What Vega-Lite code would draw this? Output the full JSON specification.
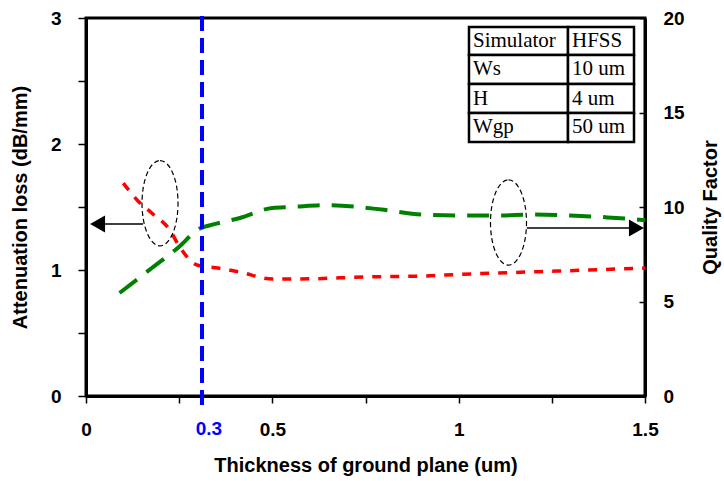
{
  "$schema": "https://vega.github.io/schema/vega-lite/v6.json",
  "width": 559,
  "height": 378,
  "autosize": {"type": "none"},
  "padding": {"left": 86, "top": 18, "right": 79, "bottom": 85},
  "background": "white",
  "config": {
    "view": {"stroke": "black", "strokeWidth": 3},
    "font": "Liberation Sans",
    "axis": {
      "domainColor": "black", "domainWidth": 3,
      "tickColor": "black", "tickWidth": 1.5,
      "labelColor": "black", "titleColor": "black",
      "labelFont": "Liberation Sans", "labelFontWeight": "bold", "labelFontSize": 19,
      "titleFont": "Liberation Sans", "titleFontWeight": "bold", "titleFontSize": 20,
      "grid": false, "labelOverlap": false, "labelFlush": false
    }
  },
  "datasets": {
    "loss": [
      {"x": 0.1, "y": 1.69}, {"x": 0.137, "y": 1.556}, {"x": 0.177, "y": 1.45},
      {"x": 0.225, "y": 1.317}, {"x": 0.252, "y": 1.18}, {"x": 0.298, "y": 1.04},
      {"x": 0.354, "y": 1.016}, {"x": 0.413, "y": 0.984}, {"x": 0.5, "y": 0.928},
      {"x": 0.6, "y": 0.93}, {"x": 0.75, "y": 0.945}, {"x": 0.9, "y": 0.952},
      {"x": 1.0, "y": 0.965}, {"x": 1.25, "y": 0.99}, {"x": 1.5, "y": 1.015}
    ],
    "quality": [
      {"x": 0.09, "q": 5.45}, {"x": 0.17, "q": 6.67}, {"x": 0.25, "q": 7.9},
      {"x": 0.3, "q": 8.8}, {"x": 0.35, "q": 9.12}, {"x": 0.413, "q": 9.42},
      {"x": 0.5, "q": 9.95}, {"x": 0.55, "q": 10.0}, {"x": 0.65, "q": 10.1},
      {"x": 0.8, "q": 9.85}, {"x": 0.9, "q": 9.6}, {"x": 1.0, "q": 9.55},
      {"x": 1.1, "q": 9.55}, {"x": 1.2, "q": 9.6}, {"x": 1.3, "q": 9.55},
      {"x": 1.4, "q": 9.45}, {"x": 1.5, "q": 9.3}
    ],
    "marker": [{"x": 0.3113, "y1": -0.0714, "y2": 3.056}],
    "label03": [{"x": 0.33, "y": -0.262, "text": "0.3"}],
    "tablecells": [
      {"x1": 1.0277, "x2": 1.2934, "y1": 2.9286, "y2": 2.7063},
      {"x1": 1.2934, "x2": 1.4705, "y1": 2.9286, "y2": 2.7063},
      {"x1": 1.0277, "x2": 1.2934, "y1": 2.7063, "y2": 2.4762},
      {"x1": 1.2934, "x2": 1.4705, "y1": 2.7063, "y2": 2.4762},
      {"x1": 1.0277, "x2": 1.2934, "y1": 2.4762, "y2": 2.2460},
      {"x1": 1.2934, "x2": 1.4705, "y1": 2.4762, "y2": 2.2460},
      {"x1": 1.0277, "x2": 1.2934, "y1": 2.2460, "y2": 2.0159},
      {"x1": 1.2934, "x2": 1.4705, "y1": 2.2460, "y2": 2.0159}
    ],
    "tabletext": [
      {"x": 1.0385, "y": 2.8175, "text": "Simulator"},
      {"x": 1.3041, "y": 2.8175, "text": "HFSS"},
      {"x": 1.0385, "y": 2.5913, "text": "Ws"},
      {"x": 1.3041, "y": 2.5913, "text": "10 um"},
      {"x": 1.0385, "y": 2.3611, "text": "H"},
      {"x": 1.3041, "y": 2.3611, "text": "4 um"},
      {"x": 1.0385, "y": 2.1310, "text": "Wgp"},
      {"x": 1.3041, "y": 2.1310, "text": "50 um"}
    ],
    "ellipses": [
      {"x": 0.1986, "y": 1.530},
      {"x": 1.1337, "y": 1.377}
    ],
    "arrowlines": [
      {"x1": 0.153, "x2": 0.045, "y": 1.365},
      {"x1": 1.183, "x2": 1.46, "y": 1.333}
    ],
    "arrowheads": [
      {"x": 0.031, "y": 1.365, "dir": "left"},
      {"x": 1.477, "y": 1.333, "dir": "right"}
    ]
  },
  "layer": [
    {
      "data": {"name": "quality"},
      "mark": {"type": "line", "color": "#008000", "strokeWidth": 4, "strokeDash": [22, 12], "interpolate": "monotone"},
      "encoding": {
        "x": {"field": "x", "type": "quantitative", "scale": {"domain": [0, 1.5], "nice": false}},
        "y": {
          "field": "q", "type": "quantitative",
          "scale": {"domain": [0, 20], "nice": false},
          "axis": {
            "orient": "right", "title": "Quality Factor", "values": [0, 5, 10, 15, 20],
            "tickSize": -6, "labelPadding": 24, "titleAngle": 270, "titleBaseline": "top", "titlePadding": 16
          }
        }
      }
    },
    {
      "layer": [
        {
          "data": {"name": "loss"},
          "mark": {"type": "line", "color": "#FF0000", "strokeWidth": 3.5, "strokeDash": [9, 9], "interpolate": "monotone"},
          "encoding": {
            "x": {
              "field": "x", "type": "quantitative",
              "scale": {"domain": [0, 1.5], "nice": false},
              "axis": {
                "title": "Thickness of ground plane (um)",
                "values": [0, 0.25, 0.5, 0.75, 1, 1.25, 1.5],
                "format": "~g",
                "labelExpr": "(datum.value == 0.25 || datum.value == 0.75 || datum.value == 1.25) ? '' : datum.label",
                "tickSize": 7, "labelPadding": 17, "titlePadding": 16
              }
            },
            "y": {
              "field": "y", "type": "quantitative",
              "scale": {"domain": [0, 3], "nice": false},
              "axis": {
                "title": "Attenuation loss (dB/mm)",
                "values": [0, 0.5, 1, 1.5, 2, 2.5, 3],
                "format": "~g",
                "labelExpr": "(datum.value == 0.5 || datum.value == 1.5 || datum.value == 2.5) ? '' : datum.label",
                "tickSize": 8, "labelPadding": 17, "titlePadding": 20
              }
            }
          }
        },
        {
          "data": {"name": "marker"},
          "mark": {"type": "rule", "color": "#0000FF", "strokeWidth": 4, "strokeDash": [15, 7], "clip": false},
          "encoding": {
            "x": {"field": "x", "type": "quantitative"},
            "y": {"field": "y1", "type": "quantitative"},
            "y2": {"field": "y2"}
          }
        },
        {
          "data": {"name": "label03"},
          "mark": {"type": "text", "color": "#0000FF", "font": "Liberation Sans", "fontWeight": "bold", "fontSize": 19, "align": "center", "baseline": "middle", "clip": false},
          "encoding": {
            "x": {"field": "x", "type": "quantitative"},
            "y": {"field": "y", "type": "quantitative"},
            "text": {"field": "text"}
          }
        },
        {
          "data": {"name": "tablecells"},
          "mark": {"type": "rect", "fill": "white", "stroke": "black", "strokeWidth": 2.5},
          "encoding": {
            "x": {"field": "x1", "type": "quantitative"},
            "x2": {"field": "x2"},
            "y": {"field": "y1", "type": "quantitative"},
            "y2": {"field": "y2"}
          }
        },
        {
          "data": {"name": "tabletext"},
          "mark": {"type": "text", "color": "black", "font": "Liberation Serif", "fontSize": 21, "align": "left", "baseline": "middle"},
          "encoding": {
            "x": {"field": "x", "type": "quantitative"},
            "y": {"field": "y", "type": "quantitative"},
            "text": {"field": "text"}
          }
        },
        {
          "data": {"name": "ellipses"},
          "mark": {
            "type": "point", "filled": false, "color": "black", "strokeWidth": 1.2, "strokeDash": [5, 3], "opacity": 1,
            "shape": "M0,-2.37C0.5523,-2.37,1,-1.309,1,0C1,1.309,0.5523,2.37,0,2.37C-0.5523,2.37,-1,1.309,-1,0C-1,-1.309,-0.5523,-2.37,0,-2.37Z",
            "size": 1296
          },
          "encoding": {
            "x": {"field": "x", "type": "quantitative"},
            "y": {"field": "y", "type": "quantitative"}
          }
        },
        {
          "data": {"name": "arrowlines"},
          "mark": {"type": "rule", "color": "black", "strokeWidth": 1.5},
          "encoding": {
            "x": {"field": "x1", "type": "quantitative"},
            "x2": {"field": "x2"},
            "y": {"field": "y", "type": "quantitative"}
          }
        },
        {
          "data": {"name": "arrowheads"},
          "mark": {"type": "point", "filled": true, "color": "black", "opacity": 1, "size": 225, "clip": false},
          "encoding": {
            "x": {"field": "x", "type": "quantitative"},
            "y": {"field": "y", "type": "quantitative"},
            "shape": {
              "field": "dir", "type": "nominal",
              "scale": {"domain": ["left", "right"], "range": ["M-1,0L1,-1.13L1,1.13Z", "M1,0L-1,-1.13L-1,1.13Z"]},
              "legend": null
            }
          }
        }
      ]
    }
  ],
  "resolve": {"scale": {"y": "independent"}}
}
